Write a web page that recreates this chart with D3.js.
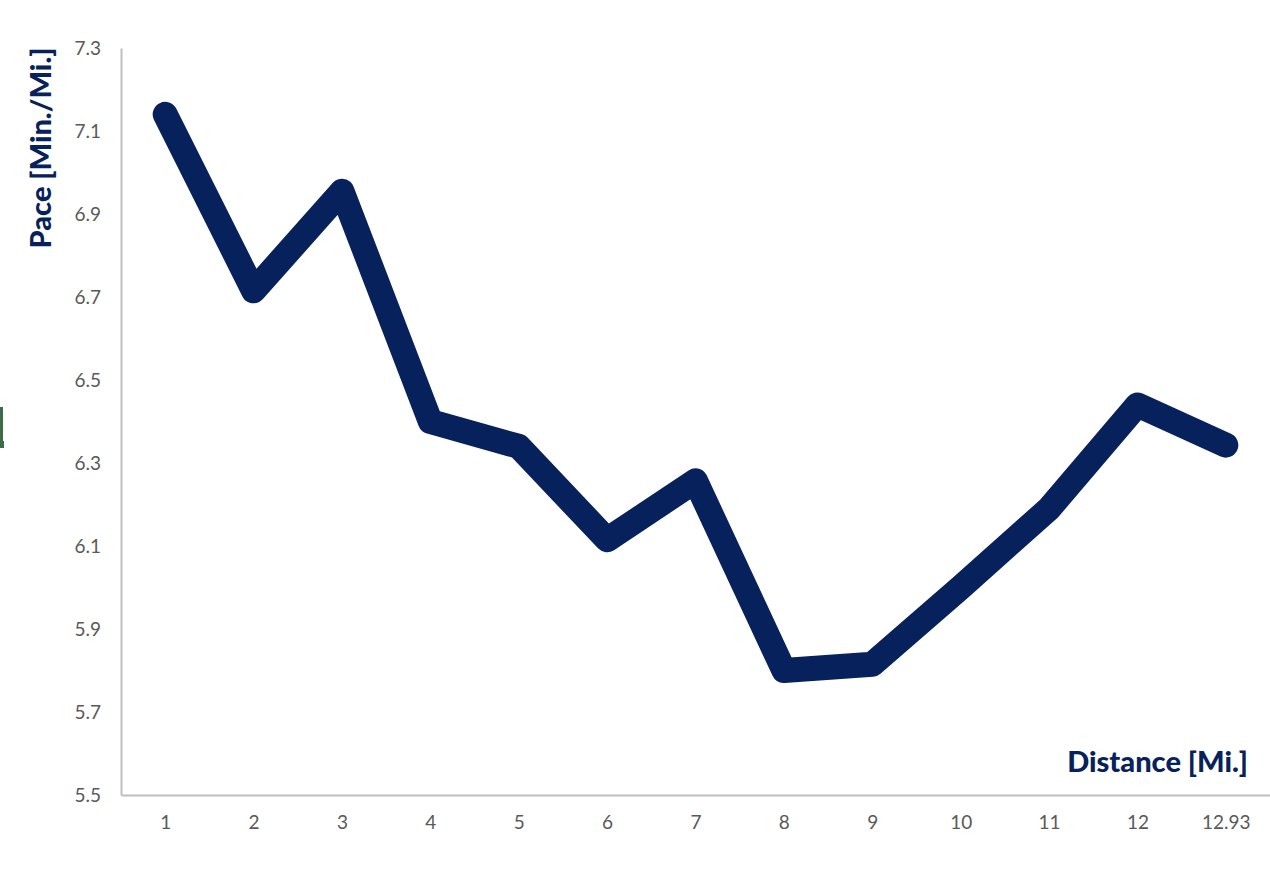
<!DOCTYPE html>
<html><head><meta charset="utf-8">
<script src="https://cdn.jsdelivr.net/npm/d3@7/dist/d3.min.js"></script>
<style>html,body{margin:0;padding:0;background:#fff;}</style>
</head><body>
<svg id="chart" width="1270" height="872"></svg>
<script>
const categories = ["1","2","3","4","5","6","7","8","9","10","11","12","12.93"];
const pace = [7.14, 6.715, 6.955, 6.40, 6.34, 6.115, 6.257, 5.80, 5.815, 6.00, 6.19, 6.44, 6.343];
const yTicks = [5.5, 5.7, 5.9, 6.1, 6.3, 6.5, 6.7, 6.9, 7.1, 7.3];

const svg = d3.select("#chart");
const mLeft = 121, mRight = 1270, mTop = 48, mBottom = 795;
const font = "'Century Gothic', 'Lato', 'DejaVu Sans', sans-serif";

const x = d3.scalePoint().domain(categories).range([mLeft, mRight]).padding(0.5);
const y = d3.scaleLinear().domain([5.5, 7.3]).range([mBottom, mTop]);

// green artifact at left edge
svg.append("rect").attr("x",0).attr("y",407).attr("width",3).attr("height",34).attr("fill","#3d6b47");
svg.append("rect").attr("x",0).attr("y",441).attr("width",4).attr("height",7).attr("fill","#3d6b47");

// axes
const yAxis = svg.append("g").attr("transform",`translate(${mLeft},0)`)
  .call(d3.axisLeft(y).tickValues(yTicks).tickSize(0).tickPadding(20).tickFormat(d3.format(".1f")));
const xAxis = svg.append("g").attr("transform",`translate(0,${mBottom})`)
  .call(d3.axisBottom(x).tickSize(0).tickPadding(21));
[yAxis, xAxis].forEach(g => {
  g.select(".domain").attr("stroke","#bfbfbf").attr("stroke-width",2);
  g.selectAll("text").attr("fill","#595959").style("font-family",font).style("font-size","19px");
});

// line
svg.append("path").datum(pace)
  .attr("d", d3.line().x((d,i)=>x(categories[i])).y(d=>y(d)))
  .attr("fill","none").attr("stroke","#06215b").attr("stroke-width",25)
  .attr("stroke-linejoin","round").attr("stroke-linecap","round");

// titles
svg.append("text").attr("transform","translate(51,148) rotate(-90)")
  .attr("text-anchor","middle").attr("fill","#06215b")
  .style("font-family",font).style("font-weight","900").style("font-size","29px")
  .text("Pace [Min./Mi.]");
svg.append("text").attr("x",1248).attr("y",772).attr("text-anchor","end").attr("fill","#06215b")
  .style("font-family",font).style("font-weight","900").style("font-size","29px")
  .text("Distance [Mi.]");
</script>
</body></html>
